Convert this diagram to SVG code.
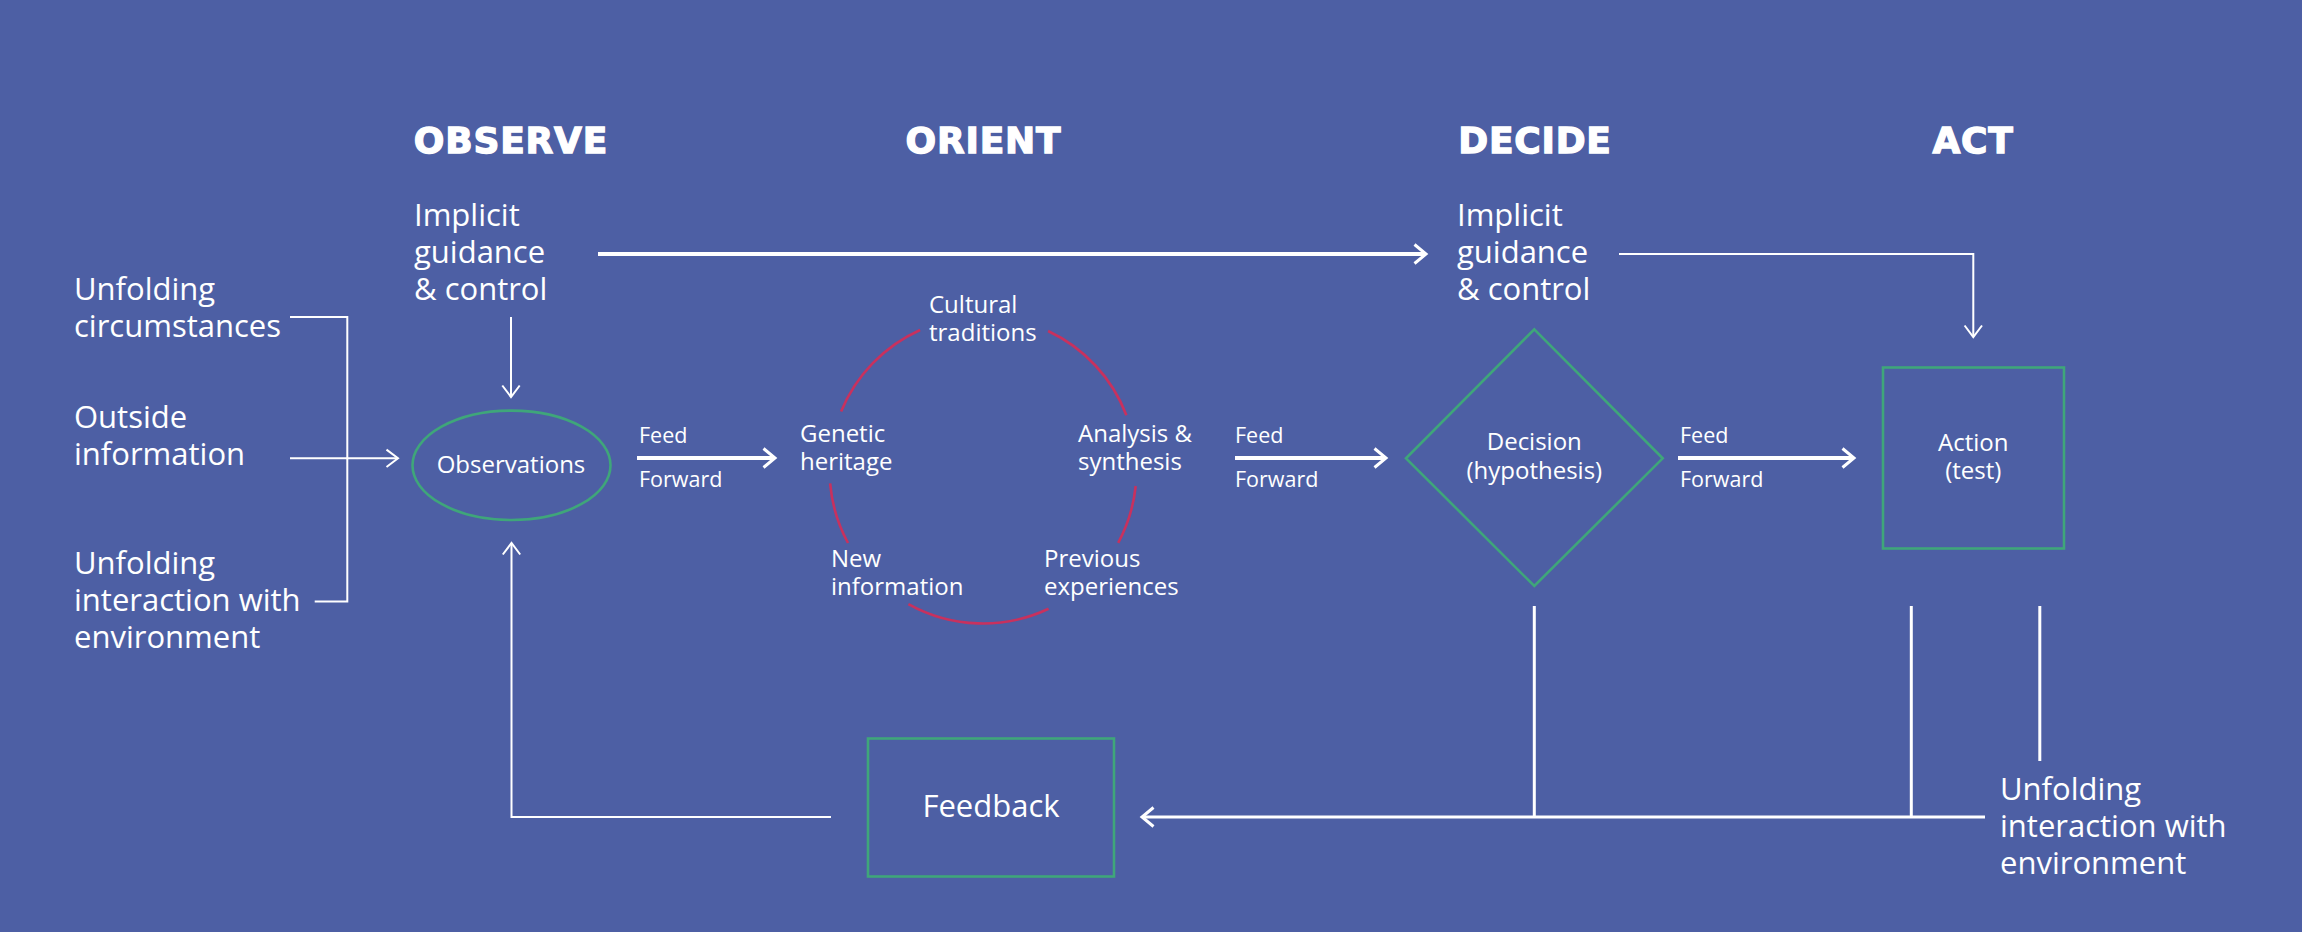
<svg xmlns="http://www.w3.org/2000/svg" width="2302" height="932" viewBox="0 0 2302 932">
<style>
.bg{fill:#4d5fa4}
.t{font-family:"Open Sans","Liberation Sans",sans-serif;fill:#ffffff}
.lg{font-size:31px}
.md{font-size:24px}
.sm{font-size:21.5px}
.hd{font-family:"DejaVu Sans","Liberation Sans",sans-serif;font-weight:bold;font-size:36px;fill:#ffffff;stroke:#ffffff;stroke-width:1.3;letter-spacing:0.8px;text-anchor:middle}
.mid{text-anchor:middle}
.node{fill:none;stroke:#3fa67a;stroke-width:2.6}
.arc{fill:none;stroke:#c8315e;stroke-width:2.6}
.c{fill:none;stroke:#ffffff}
.thin{stroke-width:2}
.med{stroke-width:3}
.thick{stroke-width:4}
</style>
<defs>
<marker id="aThin" markerUnits="userSpaceOnUse" viewBox="-14 -12 16 24" markerWidth="16" markerHeight="24" refX="0" refY="0" orient="auto" overflow="visible">
<path d="M-11.5,-8.7 L0,0 L-11.5,8.7" fill="none" stroke="#ffffff" stroke-width="2"/>
</marker>
<marker id="aThick" markerUnits="userSpaceOnUse" viewBox="-14 -12 16 24" markerWidth="16" markerHeight="24" refX="0" refY="0" orient="auto" overflow="visible">
<path d="M-11.5,-9.5 L0,0 L-11.5,9.5" fill="none" stroke="#ffffff" stroke-width="3"/>
</marker>
</defs>
<rect class="bg" x="0" y="0" width="2302" height="932"/>

<g id="headers">
<text class="hd" x="511" y="153">OBSERVE</text>
<text class="hd" x="983.5" y="153">ORIENT</text>
<text class="hd" x="1535" y="153">DECIDE</text>
<text class="hd" x="1973" y="153">ACT</text>
</g>

<g id="connectors">
<path class="c thin" d="M290,317 H347.3 V601.6 H314.7"/>
<path class="c thin" d="M290,458.3 H398" marker-end="url(#aThin)"/>
<path class="c thin" d="M511,317 V397" marker-end="url(#aThin)"/>
<path class="c thick" d="M598,254 H1426" marker-end="url(#aThick)"/>
<path class="c thin" d="M1619,254 H1973.3 V337" marker-end="url(#aThin)"/>
<path class="c thick" d="M637,458 H775" marker-end="url(#aThick)"/>
<path class="c thick" d="M1235,458 H1386" marker-end="url(#aThick)"/>
<path class="c thick" d="M1678,458 H1854" marker-end="url(#aThick)"/>
<path class="c thin" d="M831,817 H511.5 V543" marker-end="url(#aThin)"/>
<path class="c med" d="M1985,817 H1142" marker-end="url(#aThick)"/>
<path class="c med" d="M1534.3,606 V817"/>
<path class="c med" d="M1911.3,606 V817"/>
<path class="c med" d="M2039.8,606 V761"/>
</g>

<g id="inputs-left">
<text class="t lg" x="74" y="300">Unfolding<tspan x="74" dy="37">circumstances</tspan></text>
<text class="t lg" x="74" y="428">Outside<tspan x="74" dy="37">information</tspan></text>
<text class="t lg" x="74" y="574">Unfolding<tspan x="74" dy="37">interaction with</tspan><tspan x="74" dy="37">environment</tspan></text>
</g>

<g id="guidance-observe">
<text class="t lg" x="414" y="226">Implicit<tspan x="414" dy="37">guidance</tspan><tspan x="414" dy="37">&amp; control</tspan></text>
</g>

<g id="guidance-decide">
<text class="t lg" x="1457" y="226">Implicit<tspan x="1457" dy="37">guidance</tspan><tspan x="1457" dy="37">&amp; control</tspan></text>
</g>

<g id="observations">
<ellipse class="node" cx="511.5" cy="465.3" rx="99" ry="54.7"/>
<text class="t md mid" x="511" y="473">Observations</text>
</g>

<g id="feedforward-labels">
<text class="t sm" x="639" y="443">Feed</text>
<text class="t sm" x="639" y="487">Forward</text>
<text class="t sm" x="1235" y="443">Feed</text>
<text class="t sm" x="1235" y="487">Forward</text>
<text class="t sm" x="1680" y="443">Feed</text>
<text class="t sm" x="1680" y="487">Forward</text>
</g>

<g id="orient">
<path class="arc" d="M841.1,411.5 A153.5,153.5 0 0 1 920.1,330"/>
<path class="arc" d="M1048.1,331 A153.5,153.5 0 0 1 1126.4,415.2"/>
<path class="arc" d="M1135.7,486 A153.5,153.5 0 0 1 1118.2,542.8"/>
<path class="arc" d="M1048.6,608.8 A153.5,153.5 0 0 1 908.4,604.1"/>
<path class="arc" d="M848,543 A153.5,153.5 0 0 1 830.1,483.4"/>
<text class="t md" x="929" y="313">Cultural<tspan x="929" dy="28">traditions</tspan></text>
<text class="t md" x="800" y="442">Genetic<tspan x="800" dy="28">heritage</tspan></text>
<text class="t md" x="1078" y="442">Analysis &amp;<tspan x="1078" dy="28">synthesis</tspan></text>
<text class="t md" x="831" y="567">New<tspan x="831" dy="28">information</tspan></text>
<text class="t md" x="1044" y="567">Previous<tspan x="1044" dy="28">experiences</tspan></text>
</g>

<g id="decision">
<polygon class="node" points="1534.3,329.3 1662.7,458.3 1534.3,586 1406,458.3"/>
<text class="t md mid" x="1534.3" y="450">Decision<tspan x="1534.3" dy="29">(hypothesis)</tspan></text>
</g>

<g id="action">
<rect class="node" x="1883" y="367.5" width="181" height="181"/>
<text class="t md mid" x="1973.3" y="451">Action<tspan x="1973.3" dy="28">(test)</tspan></text>
</g>

<g id="feedback">
<rect class="node" x="868" y="738.5" width="246" height="138"/>
<text class="t lg mid" x="991" y="817">Feedback</text>
</g>

<g id="inputs-right">
<text class="t lg" x="2000" y="800">Unfolding<tspan x="2000" dy="37">interaction with</tspan><tspan x="2000" dy="37">environment</tspan></text>
</g>
</svg>
